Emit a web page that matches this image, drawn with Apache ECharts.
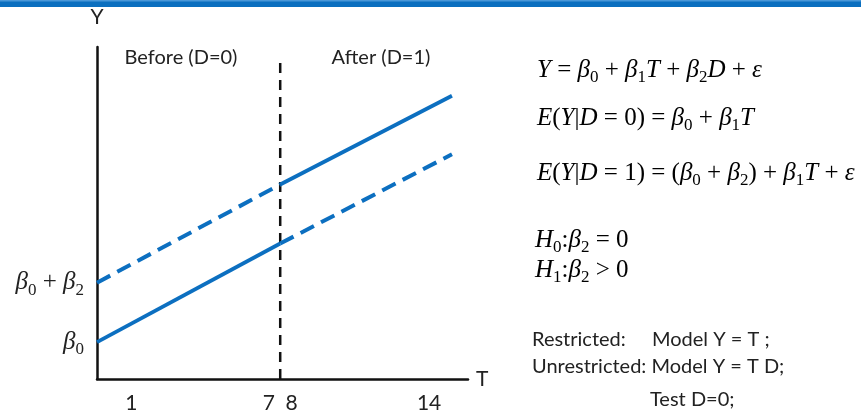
<!DOCTYPE html>
<html>
<head>
<meta charset="utf-8">
<script src="https://cdn.jsdelivr.net/npm/echarts@6/dist/echarts.min.js"></script>
<style>
  html, body { margin: 0; padding: 0; background: #ffffff; }
  #chart { width: 861px; height: 414px; }
</style>
</head>
<body>
<div id="chart"></div>
<script>
// Time points where each segment starts and ends
const tBefore = [-0.5, 7.5];
const tAfter = [7.5, 15];
// Outcome levels (Y) at those time points
const solidBefore = [1.11, 4.08];
const dashedBefore = [2.90, 5.86];
const solidAfter = [5.86, 8.53];
const dashedAfter = [4.08, 6.77];
// Intervention time and the vertical extent of its marker
const interventionT = 7.5;
const interventionSpan = [0, 9.52];
// Axis labels
const tTicks = [1, 7, 8, 14];
const interceptValues = [1.11, 2.90];
const interceptLabels = ['{i|β}{s|0}', '{i|β}{s|0}{r| + }{i|β}{s|2}'];

const BLUE = '#0c6fc0';
const SANS = 'Lato, "Open Sans", sans-serif';
const SERIF = '"Liberation Serif", "DejaVu Serif", serif';

const mathRich = {
  i: { fontFamily: SERIF, fontStyle: 'italic', fontSize: 25, lineHeight: 32, color: '#222' },
  r: { fontFamily: SERIF, fontSize: 25, lineHeight: 32, color: '#222' },
  s: { fontFamily: SERIF, fontSize: 17, lineHeight: 19, verticalAlign: 'bottom', color: '#222' }
};

const pairs = (xs, ys) => xs.map((x, k) => [x, ys[k]]);

const chart = echarts.init(document.getElementById('chart'), null, { renderer: 'canvas' });

function mathText(x, y, text) {
  return {
    type: 'text', x: x, y: y, silent: true,
    style: { text: text, rich: mathRich, align: 'left', verticalAlign: 'middle',
             textAlign: 'left', textVerticalAlign: 'middle' }
  };
}
function plainText(x, y, text, align) {
  return {
    type: 'text', x: x, y: y, silent: true,
    style: { text: text, fontFamily: SANS, fontSize: 20, fill: '#222',
             align: align || 'left', verticalAlign: 'middle',
             textAlign: align || 'left', textVerticalAlign: 'middle' }
  };
}

const option = {
  animation: false,
  backgroundColor: '#ffffff',
  grid: { left: 97, top: 47, right: 393, bottom: 34 },
  xAxis: {
    type: 'value', min: -0.5, max: 15.7,
    name: 'T', nameLocation: 'end', nameGap: 8,
    nameTextStyle: { fontFamily: SANS, fontSize: 21, color: '#222', verticalAlign: 'middle' },
    axisLine: { lineStyle: { color: '#111', width: 2.5 } },
    axisTick: { show: false },
    splitLine: { show: false },
    axisLabel: {
      customValues: tTicks, margin: 14,
      fontFamily: SANS, fontSize: 21, color: '#222',
      formatter: v => String(v)
    }
  },
  yAxis: {
    type: 'value', min: 0, max: 10,
    name: 'Y', nameLocation: 'end', nameGap: 19,
    nameTextStyle: { fontFamily: SANS, fontSize: 21, color: '#222', align: 'center' },
    axisLine: { onZero: false, lineStyle: { color: '#111', width: 2.5 } },
    axisTick: { show: false },
    splitLine: { show: false },
    axisLabel: {
      customValues: interceptValues, margin: 13,
      rich: mathRich,
      formatter: v => interceptLabels[interceptValues.indexOf(v)] || ''
    }
  },
  series: [
    {
      name: 'solidBefore', type: 'line', data: pairs(tBefore, solidBefore),
      symbol: 'none', lineStyle: { color: BLUE, width: 3.8 }
    },
    {
      name: 'dashedBefore', type: 'line', data: pairs(tBefore, dashedBefore),
      symbol: 'none', lineStyle: { color: BLUE, width: 4, type: [15, 8] }
    },
    {
      name: 'solidAfter', type: 'line', data: pairs(tAfter, solidAfter),
      symbol: 'none', lineStyle: { color: BLUE, width: 3.8 }
    },
    {
      name: 'dashedAfter', type: 'line', data: pairs(tAfter, dashedAfter),
      symbol: 'none', lineStyle: { color: BLUE, width: 4, type: [15, 8] }
    },
    {
      name: 'intervention', type: 'line',
      data: interventionSpan.map(v => [interventionT, v]),
      symbol: 'none', z: 1,
      lineStyle: { color: '#111', width: 2.5, type: [10, 7] }
    }
  ],
  graphic: [
    { type: 'rect', shape: { x: 0, y: 0, width: 861, height: 7 }, style: { fill: '#0b6fbf' }, silent: true },
    { type: 'rect', shape: { x: 0, y: 0, width: 861, height: 1.5 }, style: { fill: '#4a98d8' }, silent: true },
    plainText(181, 58, 'Before (D=0)', 'center'),
    plainText(381, 58, 'After (D=1)', 'center'),
    mathText(537, 70, '{i|Y}{r| = }{i|β}{s|0}{r| + }{i|β}{s|1}{i|T}{r| + }{i|β}{s|2}{i|D}{r| + }{i|ε}'),
    mathText(537, 118, '{i|E}{r|(}{i|Y}{r||}{i|D}{r| = 0) = }{i|β}{s|0}{r| + }{i|β}{s|1}{i|T}'),
    mathText(537, 173, '{i|E}{r|(}{i|Y}{r||}{i|D}{r| = 1) = (}{i|β}{s|0}{r| + }{i|β}{s|2}{r|) + }{i|β}{s|1}{i|T}{r| + }{i|ε}'),
    mathText(535, 240, '{i|H}{s|0}{r|:}{i|β}{s|2}{r| = 0}'),
    mathText(535, 270, '{i|H}{s|1}{r|:}{i|β}{s|2}{r| > 0}'),
    plainText(532, 340, 'Restricted:'),
    plainText(652, 340, 'Model Y = T ;'),
    plainText(532, 367, 'Unrestricted: Model Y = T D;'),
    plainText(650, 400, 'Test D=0;')
  ]
};

chart.setOption(option);
</script>
</body>
</html>
